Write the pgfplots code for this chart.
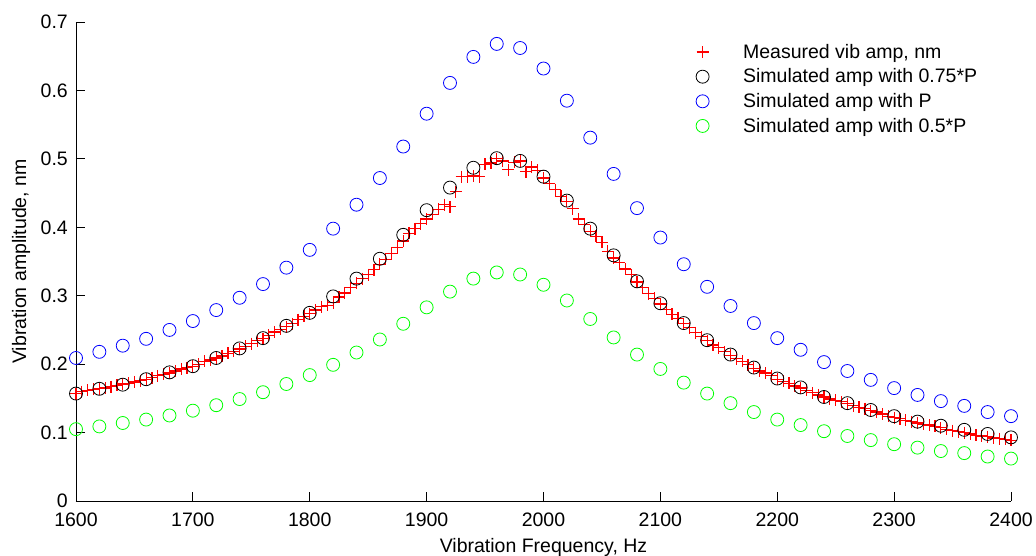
\documentclass[border=0pt]{standalone}
\usepackage{fontspec}
\setmainfont{Liberation Sans}
\usepackage{pgfplots}
\pgfplotsset{compat=1.18}
\definecolor{mblue}{RGB}{0,0,255}
\definecolor{mgreen}{RGB}{0,255,0}
\definecolor{mred}{RGB}{255,0,0}
\begin{document}
\begin{tikzpicture}
\begin{axis}[
  at={(0pt,0pt)}, anchor=south west,
  scale only axis, width=935pt, height=479pt,
  xmin=1600, xmax=2400, ymin=0, ymax=0.7,
  xtick={1600,1700,...,2400},
  ytick={0,0.1,0.2,0.3,0.4,0.5,0.6,0.7},
  axis x line*=bottom, axis y line*=left,
  axis line style={-, black, line width=0.8pt},
  tick style={black, line width=0.8pt},
  major tick length=9pt,
  tick align=inside,
  clip=false,
  font=\fontsize{19.5}{22}\selectfont,
  /pgf/number format/assume math mode=true,
  yticklabel style={/pgf/number format/fixed, /pgf/number format/precision=1, inner sep=0pt, xshift=-8pt},
  xticklabel style={/pgf/number format/1000 sep={}, inner sep=0pt, yshift=-12pt},
  xlabel={Vibration Frequency, Hz},
  ylabel={Vibration amplitude, nm},
  xlabel style={at={(axis description cs:0.5,0)}, anchor=north, inner sep=0pt, yshift=-37pt},
  ylabel style={at={(axis description cs:-0.0588,0.5)}, anchor=center, rotate=0, inner sep=0pt},
  legend style={draw=none, fill=none, at={(axis description cs:0.663,0.954)}, anchor=north west,
    inner sep=0pt, nodes={inner sep=0pt}, row sep=9pt, column sep=34pt, font=\fontsize{19.5}{22}\selectfont},
  legend cell align=left,
]
\addplot[only marks, mark=+, color=mred, mark options={draw=mred, line width=1.2pt}, mark size=6pt] coordinates {
(1600,0.157)(1605,0.160)(1610,0.162)(1615,0.163)(1620,0.164)(1625,0.165)(1630,0.167)(1635,0.169)
(1640,0.171)(1645,0.172)(1650,0.174)(1655,0.176)(1660,0.178)(1665,0.180)(1670,0.183)(1675,0.185)
(1680,0.187)(1685,0.190)(1690,0.193)(1695,0.195)(1700,0.197)(1705,0.200)(1710,0.204)(1715,0.206)
(1720,0.209)(1725,0.212)(1730,0.216)(1735,0.219)(1740,0.222)(1745,0.226)(1750,0.230)(1755,0.234)
(1760,0.237)(1765,0.242)(1770,0.247)(1775,0.251)(1780,0.255)(1785,0.259)(1790,0.265)(1795,0.270)
(1800,0.274)(1805,0.279)(1810,0.284)(1815,0.286)(1820,0.290)(1825,0.298)(1830,0.304)(1835,0.312)
(1840,0.318)(1845,0.325)(1850,0.331)(1855,0.338)(1860,0.346)(1865,0.353)(1870,0.362)(1875,0.370)
(1880,0.380)(1885,0.391)(1890,0.398)(1895,0.405)(1900,0.412)(1905,0.419)(1910,0.426)(1915,0.433)
(1920,0.430)(1925,0.452)(1930,0.474)(1935,0.474)(1940,0.475)(1945,0.474)(1950,0.492)(1955,0.494)
(1960,0.500)(1965,0.497)(1970,0.484)(1975,0.495)(1980,0.497)(1985,0.481)(1990,0.488)(1995,0.483)
(2000,0.472)(2005,0.464)(2010,0.455)(2015,0.445)(2020,0.438)(2025,0.427)(2030,0.412)(2035,0.404)
(2040,0.394)(2045,0.387)(2050,0.378)(2055,0.365)(2060,0.355)(2065,0.349)(2070,0.339)(2075,0.331)
(2080,0.320)(2085,0.312)(2090,0.303)(2095,0.296)(2100,0.288)(2105,0.280)(2110,0.273)(2115,0.267)
(2120,0.259)(2125,0.253)(2130,0.246)(2135,0.240)(2140,0.234)(2145,0.228)(2150,0.224)(2155,0.218)
(2160,0.213)(2165,0.208)(2170,0.204)(2175,0.199)(2180,0.194)(2185,0.190)(2190,0.187)(2195,0.183)
(2200,0.178)(2205,0.175)(2210,0.172)(2215,0.168)(2220,0.165)(2225,0.162)(2230,0.158)(2235,0.155)
(2240,0.152)(2245,0.149)(2250,0.147)(2255,0.145)(2260,0.142)(2265,0.139)(2270,0.137)(2275,0.135)
(2280,0.132)(2285,0.130)(2290,0.127)(2295,0.124)(2300,0.122)(2305,0.120)(2310,0.118)(2315,0.116)
(2320,0.114)(2325,0.112)(2330,0.111)(2335,0.109)(2340,0.107)(2345,0.105)(2350,0.103)(2355,0.101)
(2360,0.100)(2365,0.098)(2370,0.096)(2375,0.095)(2380,0.094)(2385,0.092)(2390,0.091)(2395,0.090)
(2400,0.089)};
\addlegendentry{Measured vib amp, nm}
\addplot[only marks, mark=o, color=black, mark options={draw=black, line width=0.8pt}, mark size=6.5pt] coordinates {
(1600,0.157)(1620,0.164)(1640,0.170)(1660,0.178)(1680,0.188)(1700,0.197)(1720,0.209)(1740,0.223)
(1760,0.238)(1780,0.256)(1800,0.275)(1820,0.299)(1840,0.325)(1860,0.354)(1880,0.389)(1900,0.425)
(1920,0.458)(1940,0.487)(1960,0.501)(1980,0.497)(2000,0.474)(2020,0.439)(2040,0.398)(2060,0.359)
(2080,0.321)(2100,0.289)(2120,0.260)(2140,0.235)(2160,0.214)(2180,0.195)(2200,0.179)(2220,0.166)
(2240,0.152)(2260,0.143)(2280,0.133)(2300,0.124)(2320,0.116)(2340,0.110)(2360,0.104)(2380,0.098)
(2400,0.093)};
\addlegendentry{Simulated amp with 0.75*P}
\addplot[only marks, mark=o, color=mblue, mark options={draw=mblue, line width=0.8pt}, mark size=6.5pt] coordinates {
(1600,0.209)(1620,0.218)(1640,0.227)(1660,0.237)(1680,0.250)(1700,0.263)(1720,0.279)(1740,0.297)
(1760,0.317)(1780,0.341)(1800,0.367)(1820,0.398)(1840,0.433)(1860,0.472)(1880,0.518)(1900,0.566)
(1920,0.611)(1940,0.649)(1960,0.668)(1980,0.662)(2000,0.632)(2020,0.585)(2040,0.531)(2060,0.478)
(2080,0.428)(2100,0.385)(2120,0.346)(2140,0.313)(2160,0.285)(2180,0.260)(2200,0.238)(2220,0.221)
(2240,0.203)(2260,0.190)(2280,0.177)(2300,0.165)(2320,0.155)(2340,0.146)(2360,0.139)(2380,0.130)
(2400,0.124)};
\addlegendentry{Simulated amp with P}
\addplot[only marks, mark=o, color=mgreen, mark options={draw=mgreen, line width=0.8pt}, mark size=6.5pt] coordinates {
(1600,0.105)(1620,0.109)(1640,0.114)(1660,0.119)(1680,0.125)(1700,0.132)(1720,0.140)(1740,0.149)
(1760,0.159)(1780,0.171)(1800,0.184)(1820,0.199)(1840,0.217)(1860,0.236)(1880,0.259)(1900,0.283)
(1920,0.306)(1940,0.325)(1960,0.334)(1980,0.331)(2000,0.316)(2020,0.293)(2040,0.266)(2060,0.239)
(2080,0.214)(2100,0.193)(2120,0.173)(2140,0.157)(2160,0.143)(2180,0.130)(2200,0.119)(2220,0.111)
(2240,0.102)(2260,0.095)(2280,0.089)(2300,0.083)(2320,0.078)(2340,0.073)(2360,0.070)(2380,0.065)
(2400,0.062)};
\addlegendentry{Simulated amp with 0.5*P}
\end{axis}
\pgfresetboundingbox
\path[use as bounding box] (-76pt,-54pt) rectangle (960pt,501pt);
\end{tikzpicture}
\end{document}
